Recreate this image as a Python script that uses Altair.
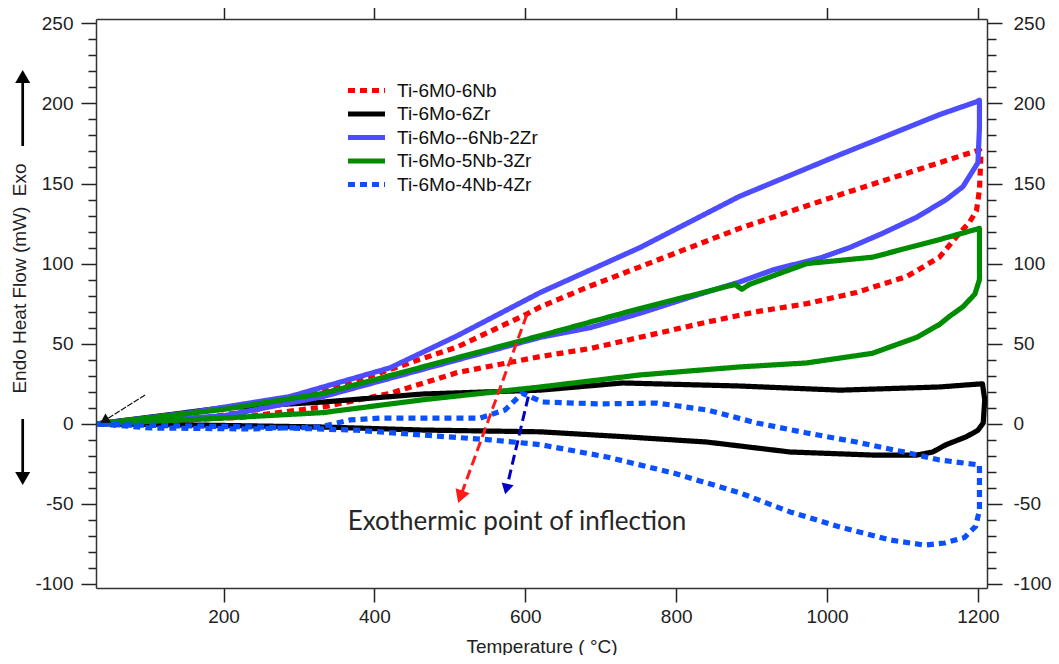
import altair as alt
import pandas as pd

# ---------------- data ----------------
series_names = ["Ti-6M0-6Nb", "Ti-6Mo-6Zr", "Ti-6Mo--6Nb-2Zr", "Ti-6Mo-5Nb-3Zr", "Ti-6Mo-4Nb-4Zr"]
series_colors = ["#ff0000", "#000000", "#4d4dff", "#008c00", "#0a50ff"]
series_dash = [[7, 5], [1, 0], [1, 0], [1, 0], [7, 5]]

red_T = [33, 169, 245, 332, 421, 510, 602, 620, 686, 752, 884, 1017, 1149, 1202,
         1204, 1202, 1198, 1189, 1172, 1149, 1106, 1039, 973, 907, 841, 752, 686, 620,
         510, 421, 332, 222, 33]
red_V = [0, 3, 9, 20, 34, 48, 68.5, 73, 86, 98, 122, 143, 163, 171,
         168, 146, 133, 126, 117, 104, 92, 82, 75, 70, 63.5, 54, 47, 42,
         32, 19, 10.5, 4, 0]

black_T = [33, 200, 332, 464, 620, 729, 884, 1017, 1149, 1206,
           1209, 1207, 1200, 1185, 1158, 1140, 1119, 1060, 951, 841, 729, 620, 464, 332, 156, 33]
black_V = [0, 10, 13.6, 18.6, 21, 25.5, 23.6, 21, 23, 25,
           15, 0.5, -4, -8, -13, -17.6, -19.5, -19.5, -17.6, -11.4, -8, -5, -3.9, -2, -0.7, 0]

blue_T = [33, 156, 288, 421, 510, 620, 752, 884, 1017, 1149, 1198,
          1202, 1202, 1200, 1180, 1158, 1119, 1074, 1030, 994, 928, 884, 818, 752, 686,
          620, 464, 332, 200, 33]
blue_V = [0, 7, 17, 35, 55, 82, 110, 142, 168, 193, 201,
          202, 185, 163, 148, 140, 129, 119, 110, 104, 96, 88.5, 79, 69, 60,
          54, 34, 17, 5, 0]

green_T = [33, 200, 332, 464, 620, 752, 878, 887, 897, 973, 1060, 1149, 1202,
           1202, 1196, 1180, 1162, 1149, 1119, 1060, 973, 884, 752, 620, 464, 332, 200, 33]
green_V = [0, 9, 19, 35.5, 55, 72, 87, 84, 87, 100, 104, 115, 122,
           90, 81, 73, 67, 62, 54, 44, 38, 35.5, 30.5, 23, 15, 7, 3.6, 0]

bdot_T = [33, 103, 236, 328, 368, 408, 540, 573, 596, 623, 699, 774, 841, 907, 973,
          1039, 1106, 1149, 1202,
          1202, 1202, 1197, 1182, 1156, 1129, 1083, 1017, 951, 884, 796, 708, 620, 553,
          464, 377, 245, 67, 33]
bdot_V = [0, -2.6, -3.2, -2, 2.4, 3.6, 3.6, 8.6, 19, 13.6, 12.4, 13, 8.6, 0.5, -5.7,
          -11.4, -18, -22.6, -25.7,
          -38, -54, -64, -71, -74.4, -75.7, -72.5, -64.4, -55, -43, -30.7, -20.7, -13, -10,
          -7, -4, -2, -0.7, 0]

# annotation arrows (data coordinates)
red_arrow_T = [602, 514]
red_arrow_V = [68, -45.6]
blue_arrow_T = [604, 575]
blue_arrow_V = [17, -40.7]
black_arrow_T = [96, 42]
black_arrow_V = [18, 2]
note_text = "Exothermic point of inflection"
note_T = [589]
note_V = [-61.3]

x_major = [200, 400, 600, 800, 1000, 1200]
y_major = [-100, -50, 0, 50, 100, 150, 200, 250]
y_minor = [v for v in range(-100, 251, 10) if v % 50 != 0]

# ---------------- build tables ----------------
rows = []
for name, T, V in zip(series_names,
                      [red_T, black_T, blue_T, green_T, bdot_T],
                      [red_V, black_V, blue_V, green_V, bdot_V]):
    for i, (t, v) in enumerate(zip(T, V)):
        rows.append({"series": name, "T": t, "V": v, "idx": i})
df = pd.DataFrame(rows)

FONT = "Liberation Sans"
xs = alt.Scale(domain=[31, 1212], nice=False, zero=False)
ys = alt.Scale(domain=[-102.5, 252.7], nice=False, zero=False)

legend = alt.Legend(
    title=None, orient="none", legendX=252, legendY=62,
    symbolType="M-3.7,0H3.7", symbolSize=100, symbolStrokeWidth=5,
    symbolOffset=9, labelOffset=21, labelFontSize=19, labelFont=FONT,
    labelColor="#111111", rowPadding=2.5, padding=0,
)

axis_common = dict(grid=False, domainColor="#333333", domainWidth=1.5,
                   tickColor="#222222", tickWidth=1.5, labelFont=FONT,
                   labelFontSize=19, labelColor="#222222", labelFlush=False,
                   labelExpr="'' + datum.value")

main = alt.Chart(df).mark_line(strokeWidth=5.2, strokeJoin="round").encode(
    x=alt.X("T:Q", scale=xs, axis=alt.Axis(
        orient="bottom", values=x_major, tickSize=14, labelPadding=5,
        title="Temperature ( °C)", titleFont=FONT, titleFontSize=19,
        titleFontWeight="normal", titleColor="#222222", titlePadding=11,
        **axis_common)),
    y=alt.Y("V:Q", scale=ys, axis=alt.Axis(
        orient="left", values=y_major, tickSize=15, labelPadding=8, title=None,
        **axis_common)),
    color=alt.Color("series:N", scale=alt.Scale(domain=series_names, range=series_colors),
                    legend=legend),
    strokeDash=alt.StrokeDash("series:N", scale=alt.Scale(domain=series_names, range=series_dash),
                              legend=legend),
    order=alt.Order("idx:Q"),
)

dummy = pd.DataFrame({"T": [600], "V": [0]})

top_right = alt.Chart(dummy).mark_point(opacity=0).encode(
    x=alt.X("T:Q", scale=xs, axis=alt.Axis(
        orient="top", values=x_major, tickSize=13, labels=False, title=None,
        **{k: v for k, v in axis_common.items() if k not in ("labelExpr",)})),
    y=alt.Y("V:Q", scale=ys, axis=alt.Axis(
        orient="right", values=y_major, tickSize=15, labelPadding=11, title=None,
        **axis_common)),
)

minor_left = alt.Chart(dummy).mark_point(opacity=0).encode(
    x=alt.X("T:Q", scale=xs, axis=None),
    y=alt.Y("V:Q", scale=ys, axis=alt.Axis(
        orient="left", values=y_minor, tickSize=8, labels=False, domain=False,
        title=None, grid=False, tickColor="#222222", tickWidth=1.5)),
)
minor_right = alt.Chart(dummy).mark_point(opacity=0).encode(
    x=alt.X("T:Q", scale=xs, axis=None),
    y=alt.Y("V:Q", scale=ys, axis=alt.Axis(
        orient="right", values=y_minor, tickSize=9, labels=False, domain=False,
        title=None, grid=False, tickColor="#222222", tickWidth=1.5)),
)


def arrow(T, V, color, width, dash, head_size, head_angle):
    d = pd.DataFrame({"T": T, "V": V, "i": list(range(len(T)))})
    line = alt.Chart(d).mark_line(color=color, strokeWidth=width, strokeDash=dash).encode(
        x=alt.X("T:Q", scale=xs, axis=None), y=alt.Y("V:Q", scale=ys, axis=None),
        order=alt.Order("i:Q"))
    head = alt.Chart(d.iloc[[-1]]).mark_point(
        shape="triangle-down", filled=True, color=color, opacity=1,
        size=head_size, angle=head_angle).encode(
        x=alt.X("T:Q", scale=xs, axis=None), y=alt.Y("V:Q", scale=ys, axis=None))
    return line + head


red_arrow = arrow(red_arrow_T, red_arrow_V, "#ff1a1a", 3, [10, 5], 225, 20)
blue_arrow = arrow(blue_arrow_T, blue_arrow_V, "#0000c8", 3, [10, 5], 150, 13.5)
black_arrow = arrow(black_arrow_T, black_arrow_V, "#111111", 1.2, [6, 1.5], 120, 58)

note = alt.Chart(pd.DataFrame({"T": note_T, "V": note_V, "label": [note_text]})).mark_text(
    font="Lato", fontSize=26, color="#262626", align="center", baseline="middle").encode(
    x=alt.X("T:Q", scale=xs, axis=None), y=alt.Y("V:Q", scale=ys, axis=None),
    text="label:N")

one = pd.DataFrame({"k": [0]})
ytitle = alt.Chart(one).mark_text(
    text="Endo Heat Flow (mW)\u00a0\u00a0Exo", angle=270, fontSize=19, font=FONT,
    color="#222222", align="center", baseline="middle").encode(
    x=alt.value(-76), y=alt.value(259.5))
up_line = alt.Chart(one).mark_rule(color="#000000", strokeWidth=2.7).encode(
    x=alt.value(-73.3), y=alt.value(127), y2=alt.value(62))
up_head = alt.Chart(one).mark_point(shape="triangle-up", filled=True, color="#000000",
                                    opacity=1, size=225).encode(
    x=alt.value(-73.3), y=alt.value(57.5))
dn_line = alt.Chart(one).mark_rule(color="#000000", strokeWidth=2.7).encode(
    x=alt.value(-73.3), y=alt.value(400), y2=alt.value(458))
dn_head = alt.Chart(one).mark_point(shape="triangle-down", filled=True, color="#000000",
                                    opacity=1, size=225).encode(
    x=alt.value(-73.3), y=alt.value(459.5))

chart = alt.layer(
    main, top_right, minor_left, minor_right,
    red_arrow, blue_arrow, black_arrow, note,
    ytitle, up_line, up_head, dn_line, dn_head,
).resolve_axis(x="independent", y="independent").properties(
    width=891, height=569,
    autosize=alt.AutoSizeParams(type="none"),
    padding={"left": 88, "top": 11, "right": 64, "bottom": 67},
    background="white",
).configure_view(stroke=None)

chart.save("out.html", embed_options={"renderer": "svg", "actions": False})
